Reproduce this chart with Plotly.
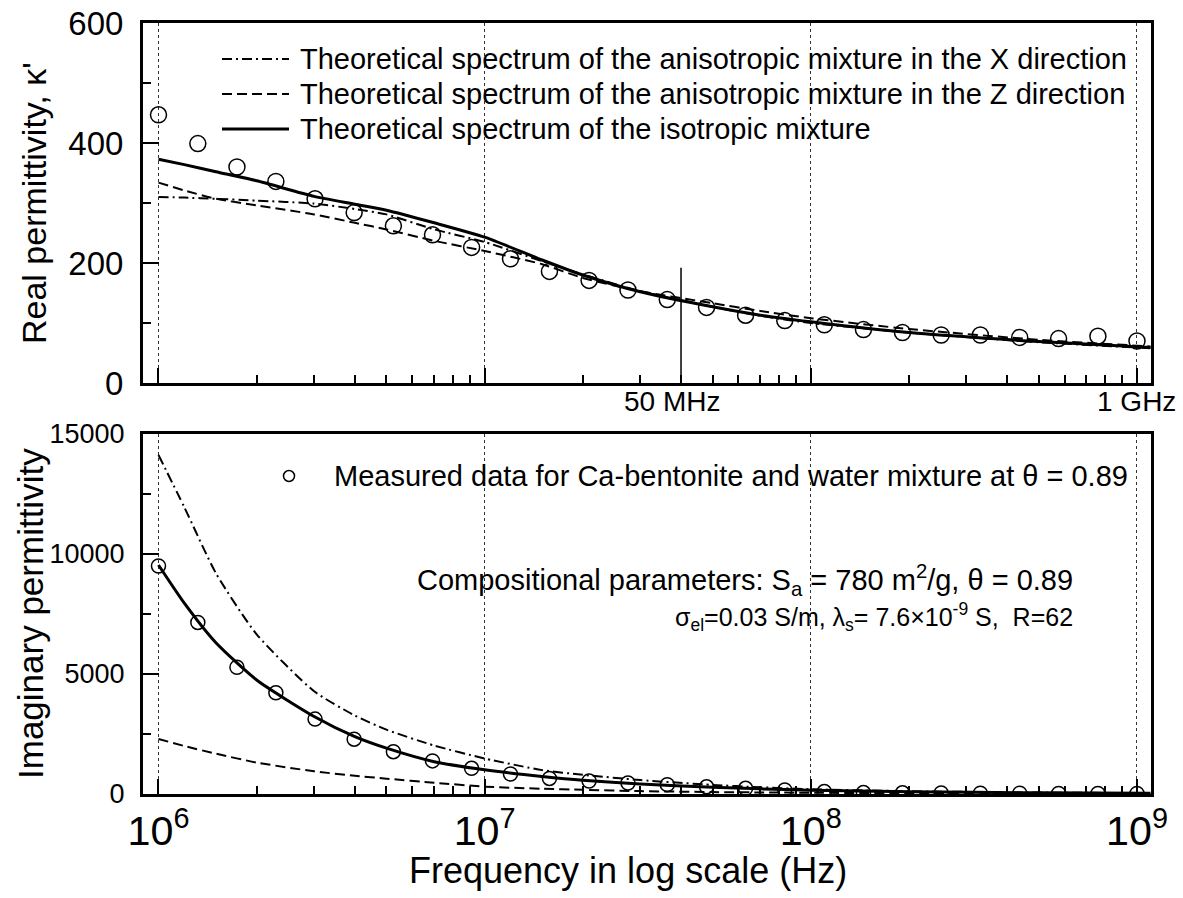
import plotly.graph_objects as go

# ---------------- data ----------------
meas_freq = [1.00e6, 1.32e6, 1.74e6, 2.29e6, 3.02e6, 3.98e6, 5.25e6, 6.92e6, 9.12e6,
             1.20e7, 1.58e7, 2.09e7, 2.75e7, 3.63e7, 4.79e7, 6.31e7, 8.32e7,
             1.10e8, 1.45e8, 1.91e8, 2.51e8, 3.31e8, 4.37e8, 5.75e8, 7.59e8, 1.00e9]
meas_real = [447, 399, 360, 336, 307, 284, 262, 247, 226, 207, 186, 171, 155, 139,
             126, 113, 104, 97, 89, 84, 80, 80, 76, 74, 78, 70]
meas_imag = [9500, 7150, 5280, 4220, 3120, 2285, 1764, 1380, 1069, 833, 650, 540,
             460, 390, 300, 236, 167, 100, 60, 50, 40, 35, 30, 25, 22, 20]

curve_freq = [1.0e6, 1.2e6, 1.5e6, 2e6, 3e6, 4e6, 5e6, 7e6, 1e7, 1.5e7, 2e7, 3e7,
              5e7, 7e7, 1e8, 2e8, 5e8, 1.1e9]
real_iso = [373, 364, 352, 337, 311, 298, 288, 267, 243, 205, 180, 152, 127, 113, 102, 84, 69, 59]
real_x = [310, 309, 307, 304, 299, 290, 281, 256, 235, 203, 181, 153, 127, 112, 100, 84, 68, 58]
real_z = [334, 321, 307, 296, 281, 267, 256, 237, 220, 198, 175, 153, 133, 120, 108, 90, 72, 61]
imag_iso = [9540, 7950, 6300, 4750, 3230, 2390, 1910, 1347, 1010, 730, 570, 420, 280, 215, 160, 95, 50, 30]
imag_x = [14125, 11950, 9200, 6650, 4280, 3270, 2680, 2020, 1480, 995, 800, 580, 380, 280, 200, 115, 60, 35]
imag_z = [2292, 2000, 1680, 1310, 945, 760, 640, 470, 306, 220, 175, 120, 80, 65, 52, 35, 22, 15]

marker_line_freq = [4.0e7, 4.0e7]
marker_line_val = [0, 192]

legend_top = ["Theoretical spectrum of the anisotropic mixture in the X direction",
              "Theoretical spectrum of the anisotropic mixture in the Z direction",
              "Theoretical spectrum of the isotropic mixture"]
legend_bottom = "Measured data for Ca-bentonite and water mixture at \u03b8 = 0.89"
param_line1 = "Compositional parameters: S<sub>a</sub> = 780 m<sup>2</sup>/g, \u03b8 = 0.89"
param_line2 = "\u03c3<sub>el</sub>=0.03 S/m, \u03bb<sub>s</sub>= 7.6\u00d710<sup>-9</sup> S,\u00a0 R=62"

# ---------------- layout geometry (window pixels) ----------------
W, H = 1183, 898
PL, PR, PT, PB = 143, 1151, 23, 794   # plot-area edges in pixels
ML, MR, MT, MB = PL, W - PR, PT, H - PB
PW = PR - PL
PH = PB - PT
FONT = "Liberation Sans, Arial, sans-serif"


def px_x(p):
    return (p - PL) / PW


def px_y(p):
    return (PB - p) / PH


DASH = "10px,5px"
DASHDOT = "10px,4px,2px,4px"

fig = go.Figure()

# top panel curves
fig.add_trace(go.Scatter(x=curve_freq, y=real_x, mode="lines", line=dict(color="black", width=2, dash=DASHDOT, shape="spline", smoothing=0.6), xaxis="x", yaxis="y", showlegend=False))
fig.add_trace(go.Scatter(x=curve_freq, y=real_z, mode="lines", line=dict(color="black", width=2, dash=DASH, shape="spline", smoothing=0.6), xaxis="x", yaxis="y", showlegend=False))
fig.add_trace(go.Scatter(x=curve_freq, y=real_iso, mode="lines", line=dict(color="black", width=3, shape="spline", smoothing=0.6), xaxis="x", yaxis="y", showlegend=False))
fig.add_trace(go.Scatter(x=meas_freq, y=meas_real, mode="markers", marker=dict(symbol="circle-open", size=16, color="black", line=dict(width=1.5)), xaxis="x", yaxis="y", showlegend=False))
fig.add_trace(go.Scatter(x=marker_line_freq, y=marker_line_val, mode="lines", line=dict(color="black", width=1.5), xaxis="x", yaxis="y", showlegend=False))

# bottom panel curves
fig.add_trace(go.Scatter(x=curve_freq, y=imag_x, mode="lines", line=dict(color="black", width=2, dash=DASHDOT, shape="spline", smoothing=0.6), xaxis="x2", yaxis="y2", showlegend=False))
fig.add_trace(go.Scatter(x=curve_freq, y=imag_z, mode="lines", line=dict(color="black", width=2, dash=DASH, shape="spline", smoothing=0.6), xaxis="x2", yaxis="y2", showlegend=False))
fig.add_trace(go.Scatter(x=curve_freq, y=imag_iso, mode="lines", line=dict(color="black", width=3, shape="spline", smoothing=0.6), xaxis="x2", yaxis="y2", showlegend=False))
fig.add_trace(go.Scatter(x=meas_freq, y=meas_imag, mode="markers", marker=dict(symbol="circle-open", size=14, color="black", line=dict(width=1.5)), xaxis="x2", yaxis="y2", showlegend=False))

xr = [5.9525, 9.043]
xcommon = dict(type="log", range=xr, dtick=1, showline=True, linewidth=3, linecolor="black",
               mirror=True, ticks="inside", ticklen=15, tickwidth=2, tickcolor="black",
               showgrid=True, gridcolor="#333", gridwidth=1, griddash="dot", zeroline=False,
               automargin=False, ticklabeloverflow="allow",
               minor=dict(dtick="D1", ticks="inside", ticklen=8, tickwidth=2, tickcolor="black", showgrid=False))
ycommon = dict(showline=True, linewidth=3, linecolor="black", mirror=True, ticks="inside",
               ticklen=16, tickwidth=2, tickcolor="black", showgrid=False, zeroline=False,
               ticklabelstandoff=10, automargin=False, tickformat="d",
               ticklabeloverflow="allow")

top_lo = px_y(383)
bot_hi = px_y(434)

fig.update_layout(
    width=W, height=H,
    margin=dict(l=ML, r=MR, t=MT, b=MB, autoexpand=False),
    paper_bgcolor="white", plot_bgcolor="white",
    font=dict(family=FONT, color="black"),
    xaxis=dict(**xcommon, anchor="y", domain=[0, 1], showticklabels=False),
    yaxis=dict(**ycommon, domain=[top_lo, 1], range=[0, 600], dtick=200,
               minor=dict(dtick=100, ticks="inside", ticklen=8, tickwidth=2, tickcolor="black"),
               tickfont=dict(size=33, family=FONT)),
    xaxis2=dict(**xcommon, anchor="y2", domain=[0, 1], showticklabels=True,
                exponentformat="power", tickfont=dict(size=33, family=FONT)),
    yaxis2=dict(**ycommon, domain=[0, bot_hi], range=[0, 15000], dtick=5000,
                minor=dict(dtick=2500, ticks="inside", ticklen=8, tickwidth=2, tickcolor="black"),
                tickfont=dict(size=27, family=FONT)),
)

shapes = []
annots = []

# top legend (manual)
leg_y = [59, 94, 129]
leg_dash = [DASHDOT, DASH, "solid"]
leg_w = [2, 2, 3]
for txt, yy, dsh, lw in zip(legend_top, leg_y, leg_dash, leg_w):
    shapes.append(dict(type="line", xref="paper", yref="paper", x0=px_x(222), x1=px_x(289),
                       y0=px_y(yy), y1=px_y(yy), line=dict(color="black", width=lw, dash=dsh)))
    annots.append(dict(xref="paper", yref="paper", x=px_x(298), y=px_y(yy), text=txt,
                       showarrow=False, xanchor="left", yanchor="middle",
                       font=dict(size=29, family=FONT, color="black")))

# bottom legend (manual)
shapes.append(dict(type="circle", xref="paper", yref="paper", x0=px_x(283.5), x1=px_x(294.5),
                   y0=px_y(481.5), y1=px_y(470.5), line=dict(color="black", width=1.5)))
annots.append(dict(xref="paper", yref="paper", x=px_x(332), y=px_y(476), text=legend_bottom,
                   showarrow=False, xanchor="left", yanchor="middle",
                   font=dict(size=29, family=FONT, color="black")))
annots.append(dict(xref="paper", yref="paper", x=px_x(1075), y=px_y(580), text=param_line1,
                   showarrow=False, xanchor="right", yanchor="middle",
                   font=dict(size=29, family=FONT, color="black")))
annots.append(dict(xref="paper", yref="paper", x=px_x(1075), y=px_y(617), text=param_line2,
                   showarrow=False, xanchor="right", yanchor="middle",
                   font=dict(size=25, family=FONT, color="black")))

# top-axis frequency labels
annots.append(dict(xref="paper", yref="paper", x=px_x(672), y=px_y(401), text="50 MHz",
                   showarrow=False, xanchor="center", yanchor="middle",
                   font=dict(size=28, family=FONT, color="black")))
annots.append(dict(xref="paper", yref="paper", x=px_x(1136), y=px_y(401), text="1 GHz",
                   showarrow=False, xanchor="center", yanchor="middle",
                   font=dict(size=28, family=FONT, color="black")))

# axis titles
annots.append(dict(xref="paper", yref="paper", x=px_x(34), y=px_y(203), text="Real permittivity, \u03ba'",
                   showarrow=False, xanchor="center", yanchor="middle", textangle=-90,
                   font=dict(size=34, family=FONT, color="black")))
annots.append(dict(xref="paper", yref="paper", x=px_x(30), y=px_y(614), text="Imaginary permittivity",
                   showarrow=False, xanchor="center", yanchor="middle", textangle=-90,
                   font=dict(size=35, family=FONT, color="black")))
annots.append(dict(xref="paper", yref="paper", x=px_x(628), y=px_y(870), text="Frequency in log scale (Hz)",
                   showarrow=False, xanchor="center", yanchor="middle",
                   font=dict(size=36, family=FONT, color="black")))

fig.update_layout(shapes=shapes, annotations=annots)

fig.write_html("out.html", config={"displayModeBar": False},
               post_script="document.body.style.margin='0px';")
